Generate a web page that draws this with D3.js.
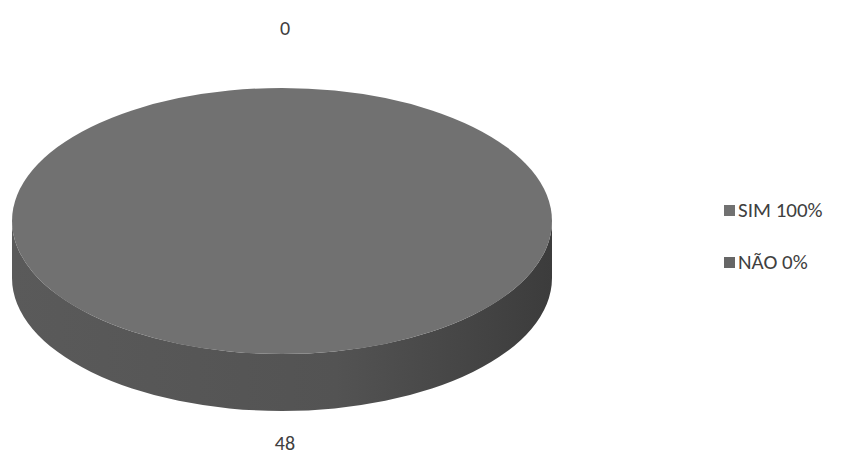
<!DOCTYPE html>
<html>
<head>
<meta charset="utf-8">
<script src="https://cdn.jsdelivr.net/npm/d3@7"></script>
<style>
  body { margin: 0; background: #fff; }
  text { font-family: Carlito, "Liberation Sans", sans-serif; fill: #404040; }
</style>
</head>
<body>
<svg id="pie"></svg>
<script>
// data
const categories = ["SIM", "NÃO"]
const values = [48, 0]
const legendLabels = ["SIM 100%", "NÃO 0%"]
const colors = ["#717171", "#666666"]

const width = 854
const height = 457

const svg = d3.select("#pie")
    .attr("width", width)
    .attr("height", height)

// ellipse that stands for the tilted pie
const cx = 282, cy = 221
const rx = 270, ry = 133
const depth = 57

//excel style: start at the top and go clockwise, no sorting
const pie = d3.pie().sort(null).value(d => d.value)
const arcs = pie(categories.map((c, i) => ({ name: c, value: values[i] })))

//point on the top ellipse for a clock angle
const topPoint = a => [cx + rx * Math.sin(a), cy - ry * Math.cos(a)]

const defs = svg.append("defs")
const grad = defs.append("linearGradient")
    .attr("id", "side")
    .attr("x1", "0%").attr("x2", "100%")
grad.append("stop").attr("offset", "0%").attr("stop-color", "#5a5a5a")
grad.append("stop").attr("offset", "60%").attr("stop-color", "#535353")
grad.append("stop").attr("offset", "100%").attr("stop-color", "#3c3c3c")

//side walls, only the front half is visible
const sidePath = d => {
    const s = Math.max(d.startAngle, Math.PI / 2)
    const e = Math.min(d.endAngle, Math.PI * 3 / 2)
    if (s >= e) return null
    const p0 = topPoint(s), p1 = topPoint(e)
    return "M" + p0 + "A" + rx + "," + ry + " 0 0 1 " + p1 +
        "L" + [p1[0], p1[1] + depth] +
        "A" + rx + "," + ry + " 0 0 0 " + [p0[0], p0[1] + depth] + "Z"
}

svg.append("g")
    .selectAll("path")
    .data(arcs.filter(d => d.value > 0))
    .enter()
    .append("path")
    .attr("d", sidePath)
    .attr("fill", "url(#side)")

//top face, a normal arc squashed into an ellipse
const arc = d3.arc().innerRadius(0).outerRadius(rx)
svg.append("g")
    .attr("transform", "translate(" + cx + "," + cy + ") scale(1," + (ry / rx) + ")")
    .selectAll("path")
    .data(arcs.filter(d => d.value > 0))
    .enter()
    .append("path")
    .attr("d", arc)
    .attr("fill", (d, i) => colors[i])

//value labels outside the pie
const labelR = 193
svg.append("g")
    .selectAll("text")
    .data(arcs)
    .enter()
    .append("text")
    .attr("x", d => cx + 3 + (rx + 60) * Math.sin((d.startAngle + d.endAngle) / 2))
    .attr("y", d => {
        const a = (d.startAngle + d.endAngle) / 2
        return cy - labelR * Math.cos(a) + (Math.cos(a) < 0 ? depth * 0.5 : 0)
    })
    .attr("text-anchor", "middle")
    .attr("dominant-baseline", "central")
    .style("font-size", "20px")
    .text(d => d.value)

//legend
const legend = svg.append("g")
    .selectAll("g")
    .data(categories)
    .enter()
    .append("g")
    .attr("transform", (d, i) => "translate(724," + (210 + i * 52) + ")")

legend.append("rect")
    .attr("x", 0).attr("y", -5)
    .attr("width", 11).attr("height", 11)
    .attr("fill", (d, i) => colors[i])

legend.append("text")
    .attr("x", 14)
    .attr("dominant-baseline", "central")
    .style("font-size", "21px")
    .text((d, i) => legendLabels[i])
</script>
</body>
</html>
